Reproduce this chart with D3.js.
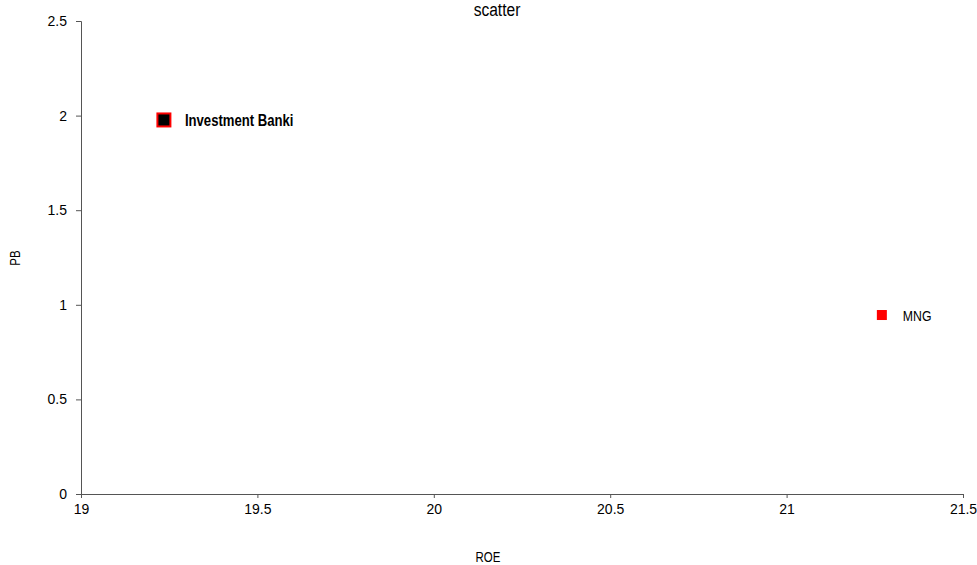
<!DOCTYPE html>
<html>
<head>
<meta charset="utf-8">
<script src="https://cdn.jsdelivr.net/npm/d3@7"></script>
<style>
  body { margin: 0; background: #fff; }
  text { font-family: "Liberation Sans", Arial, sans-serif; }
</style>
</head>
<body>
<svg></svg>
<script>
// Chart size and plot margins
const width = 977, height = 565, margin = { top: 21, right: 14, bottom: 71, left: 81 };

// Data
const names = ["Investment Banki", "MNG"];
const roe = [19.235, 21.27];
const pb = [1.977, 0.946];
const xTicks = [19, 19.5, 20, 20.5, 21, 21.5];
const yTicks = [0, 0.5, 1, 1.5, 2, 2.5];

const data = names.map((n, i) => ({ name: n, x: roe[i], y: pb[i] }));
const squeeze = 0.82; // no narrow font installed, squeeze horizontally instead

const svg = d3.select("svg")
    .attr("width", width)
    .attr("height", height);

const xScale = d3.scaleLinear().domain([19, 21.5]).range([margin.left, width - margin.right]);
const yScale = d3.scaleLinear().domain([0, 2.5]).range([height - margin.bottom, margin.top]);

// x-axis
const xAxis = svg.append("g")
    .attr("transform", `translate(0, ${height - margin.bottom})`)
    .call(d3.axisBottom(xScale).tickValues(xTicks).tickFormat(d3.format("")).tickSize(4).tickPadding(6));

// y-axis
const yAxis = svg.append("g")
    .attr("transform", `translate(${margin.left}, 0)`)
    .call(d3.axisLeft(yScale).tickValues(yTicks).tickFormat(d3.format("")).tickSize(5).tickPadding(9));

[xAxis, yAxis].forEach(g => {
    g.selectAll("path, line").attr("stroke", "#555");
    g.selectAll("text").attr("font-size", "14px").attr("fill", "#000")
        .style("font-family", "'Liberation Sans', Arial, sans-serif");
});

// title
svg.append("text")
    .attr("transform", `translate(497, 16) scale(${squeeze}, 1)`)
    .attr("text-anchor", "middle")
    .attr("font-size", "19px")
    .text("scatter");

// axis titles
svg.append("text")
    .attr("transform", `translate(488, 562) scale(${squeeze}, 1)`)
    .attr("text-anchor", "middle")
    .attr("font-size", "14px")
    .text("ROE");

svg.append("text")
    .attr("transform", `translate(20, 258) rotate(-90) scale(${squeeze}, 1)`)
    .attr("text-anchor", "middle")
    .attr("font-size", "14px")
    .text("PB");

// markers
svg.selectAll(".pt")
    .data(data)
    .enter()
    .append("rect")
    .attr("class", "pt")
    .attr("x", (d, i) => xScale(d.x) - (i === 0 ? 6.5 : 5))
    .attr("y", (d, i) => yScale(d.y) - (i === 0 ? 6.5 : 5))
    .attr("width", (d, i) => i === 0 ? 13 : 10)
    .attr("height", (d, i) => i === 0 ? 13 : 10)
    .attr("fill", (d, i) => i === 0 ? "#000" : "#ff0000")
    .attr("stroke", (d, i) => i === 0 ? "#ff0000" : "none")
    .attr("stroke-width", 2);

// labels
svg.selectAll(".lbl")
    .data(data)
    .enter()
    .append("text")
    .attr("class", "lbl")
    .attr("transform", d => `translate(${xScale(d.x) + 21}, ${yScale(d.y) + 6}) scale(${squeeze}, 1)`)
    .attr("font-size", (d, i) => i === 0 ? "16px" : "15px")
    .attr("font-weight", (d, i) => i === 0 ? "bold" : "normal")
    .text(d => d.name);
</script>
</body>
</html>
